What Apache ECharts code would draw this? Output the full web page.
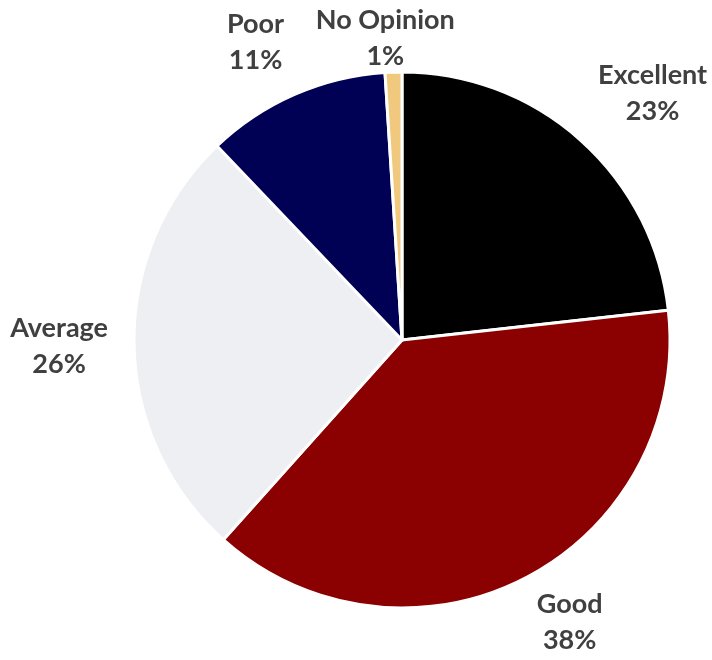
<!DOCTYPE html>
<html>
<head>
<meta charset="utf-8">
<title>Rating distribution</title>
<script src="https://cdn.jsdelivr.net/npm/echarts@6/dist/echarts.min.js"></script>
<style>
  html, body { margin: 0; padding: 0; background: #ffffff; }
  #chart { width: 712px; height: 660px; }
</style>
</head>
<body>
<div id="chart"></div>
<script>
// Survey ratings, clockwise from 12 o'clock
const categories = ['Excellent', 'Good', 'Average', 'Poor', 'No Opinion'];
const shares = [23, 38, 26, 11, 1];
const sliceColors = ['#000000', '#8b0000', '#eeeff3', '#000055', '#f0c97e'];

const CX = 402, CY = 340, R = 268;
const LABEL_GAP = 294;   // centre-to-label anchor distance along each slice's bisector
const EDGE_MARGIN = 10;  // labels are kept this far inside the canvas

const total = shares.reduce((a, b) => a + b, 0);
function midAngle(i) {
  let before = 0;
  for (let k = 0; k < i; k++) before += shares[k];
  return ((before + shares[i] / 2) / total) * Math.PI * 2;
}
const clamp1 = v => Math.max(-1, Math.min(1, v));

const el = document.getElementById('chart');
const chart = echarts.init(el, null, { renderer: 'canvas' });
chart.setOption({
  backgroundColor: '#ffffff',
  animation: false,
  series: [{
    type: 'pie',
    center: [CX, CY],
    radius: [0, R],
    startAngle: 90,
    clockwise: true,
    avoidLabelOverlap: false,
    data: categories.map((name, i) => ({
      name: name,
      value: shares[i],
      itemStyle: { color: sliceColors[i] }
    })),
    itemStyle: { borderColor: '#ffffff', borderWidth: 3 },
    label: {
      show: true,
      position: 'outside',
      formatter: '{b}\n{c}%',
      fontFamily: 'Lato, "Open Sans", sans-serif',
      fontWeight: 'bold',
      fontSize: 27,
      lineHeight: 36,
      color: '#404040',
      align: 'center'
    },
    labelLine: { show: false },
    // Put the label's nearest corner/edge on the bisector, outside the rim
    labelLayout: function (p) {
      const a = midAngle(p.dataIndex);
      const ux = Math.sin(a), uy = -Math.cos(a);
      const px = CX + LABEL_GAP * ux, py = CY + LABEL_GAP * uy;
      const w = p.labelRect.width, h = p.labelRect.height - 16;
      const x = px + clamp1(ux / 0.3) * w / 2;
      let y = py + clamp1(uy / 0.3) * h / 2;
      const H = chart.getHeight();
      y = Math.max(EDGE_MARGIN + h / 2, Math.min(H - EDGE_MARGIN - h / 2, y));
      return { x: x, y: y, align: 'center', verticalAlign: 'middle' };
    },
    emphasis: { disabled: true }
  }]
});
</script>
</body>
</html>
